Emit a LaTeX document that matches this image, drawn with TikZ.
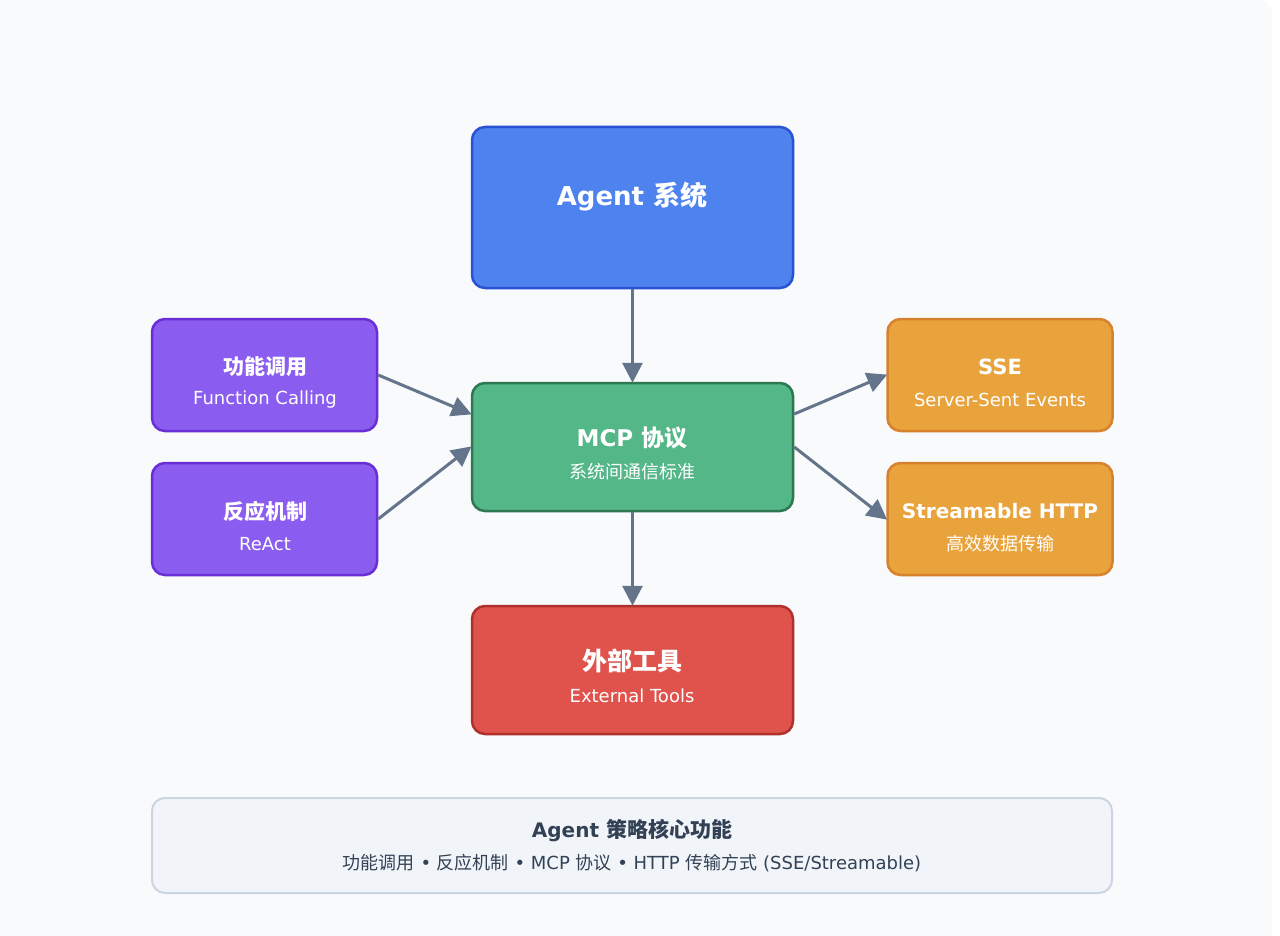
\documentclass[tikz,border=0pt]{standalone}
\usepackage{fontspec}
\setmainfont{Noto Sans CJK SC}
\newfontfamily\lat{DejaVu Sans}
\usetikzlibrary{arrows.meta}
\definecolor{bgc}{HTML}{F8FAFC}
\definecolor{agentF}{HTML}{4E82EE}
\definecolor{agentD}{HTML}{2A52D4}
\definecolor{mcpF}{HTML}{53B787}
\definecolor{mcpD}{HTML}{2E7753}
\definecolor{purF}{HTML}{8A5CF0}
\definecolor{purD}{HTML}{6A2ED6}
\definecolor{orF}{HTML}{E9A33C}
\definecolor{orD}{HTML}{D8812C}
\definecolor{redF}{HTML}{E0534D}
\definecolor{redD}{HTML}{B0302C}
\definecolor{botF}{HTML}{F1F5F9}
\definecolor{botD}{HTML}{CBD5E1}
\definecolor{arrc}{HTML}{64748B}
\definecolor{botT}{HTML}{334155}
\tikzset{
  box/.style={draw, line width=2.5pt, rounded corners=13pt, inner sep=0pt},
  ttl/.style={text=white, font=\bfseries\fontsize{21}{24}\selectfont, inner sep=0pt},
  sub/.style={text=white, font=\fontsize{18}{21}\selectfont, inner sep=0pt},
  arr/.style={draw=arrc, line width=3pt, -{Triangle[length=20pt,width=20pt]}, shorten >=-1pt}
}
\begin{document}
\begin{tikzpicture}[x=1pt,y=-1pt]
\useasboundingbox (0,0) rectangle (1280,936);
\fill[white] (0,0) rectangle (1280,936);
\fill[bgc, rounded corners=14pt] (-30,0) rectangle (1272,966);
% boxes
\node[box, fill=agentF, draw=agentD, minimum width=321pt, minimum height=161pt] (agent) at (632.5,207.5) {};
\node[box, fill=mcpF, draw=mcpD, minimum width=321pt, minimum height=128pt] (mcp) at (632.5,447) {};
\node[box, fill=purF, draw=purD, minimum width=225pt, minimum height=112pt] (fc) at (264.5,375) {};
\node[box, fill=purF, draw=purD, minimum width=225pt, minimum height=112pt] (ra) at (264.5,519) {};
\node[box, fill=orF, draw=orD, minimum width=225pt, minimum height=112pt] (sse) at (1000,375) {};
\node[box, fill=orF, draw=orD, minimum width=225pt, minimum height=112pt] (sh) at (1000,519) {};
\node[box, fill=redF, draw=redD, minimum width=321pt, minimum height=128pt] (ext) at (632.5,670) {};
\node[box, fill=botF, draw=botD, minimum width=960pt, minimum height=95pt, line width=2pt] (bot) at (632,845.5) {};
% texts
\node[ttl, font=\bfseries\fontsize{27}{30}\selectfont] (agentT) at (632,197) {{\lat\fontsize{26}{30}\selectfont Agent\ }系统};
\node[ttl, font=\bfseries\fontsize{23}{26}\selectfont] (mcpT) at (632,438) {{\lat MCP\ }协议};
\node[sub] (mcpS) at (632,472) {系统间通信标准};
\node[ttl] (fcT) at (265,367) {功能调用};
\node[sub] (fcS) at (265,400) {\lat Function Calling};
\node[ttl] (raT) at (265,511) {反应机制};
\node[sub] (raS) at (265,544) {\lat ReAct};
\node[ttl] (sseT) at (1000,367) {\lat SSE};
\node[sub] (sseS) at (1000,400) {\lat Server-Sent Events};
\node[ttl, font=\bfseries\fontsize{20}{24}\selectfont] (shT) at (1000,511) {\lat Streamable HTTP};
\node[sub] (shS) at (1000,544) {高效数据传输};
\node[ttl, font=\bfseries\fontsize{25}{28}\selectfont] (extT) at (632,661) {外部工具};
\node[sub] (extS) at (632,696) {\lat External Tools};
\node[ttl, text=botT] (botT) at (632,831) {{\lat\fontsize{20}{24}\selectfont Agent\ }策略核心功能};
\node[sub, text=botT] (botS) at (632,863) {功能调用{\lat\ •\ }反应机制{\lat\ •\ MCP\ }协议{\lat\ •\ HTTP\ }传输方式{\lat\ (SSE/Streamable)}};
% arrows
\draw[arr] (agent.south) -- (mcp.north);
\draw[arr] (mcp.south) -- (ext.north);
\draw[arr] (fc.east) -- ([yshift=33pt]mcp.west);
\draw[arr] (ra.east) -- (mcp.west);
\draw[arr] ([yshift=33pt]mcp.east) -- (sse.west);
\draw[arr] (mcp.east) -- (sh.west);
\end{tikzpicture}
\end{document}
